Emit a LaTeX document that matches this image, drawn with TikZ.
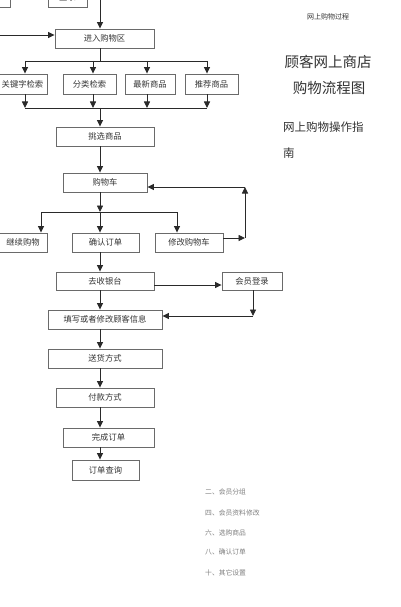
\documentclass[tikz,border=0pt]{standalone}
\usepackage{fontspec}
\newfontfamily\cjk{Noto Sans CJK SC}
\usetikzlibrary{arrows.meta}
\definecolor{boxline}{HTML}{6A6A6A}
\definecolor{conn}{HTML}{2A2A2A}
\definecolor{txt}{HTML}{333333}
\begin{document}
\begin{tikzpicture}[x=1pt,y=-1pt,
  box/.style={draw=boxline,line width=0.9pt,fill=white,inner sep=0pt,minimum height=19pt,font=\cjk\fontsize{8.3}{9}\selectfont,text=txt},
  conline/.style={draw=conn,line width=0.85pt},
  arr/.style={conline,-{Triangle[length=6.5pt,width=6pt]}},
  small/.style={font=\cjk\fontsize{6.8}{8}\selectfont,text=gray,anchor=west,inner sep=0pt}]
\useasboundingbox (0,0) rectangle (400,607);
\fill[white] (0,0) rectangle (400,607);
% top partially visible boxes
\node[box,minimum width=39pt] (login) at (67.5,-2.5) {登录};
\node[box,minimum width=50pt] (lefttop) at (-15,-2.5) {};
\node[box,minimum width=99pt] (enter) at (104.5,38.5) {进入购物区};
\node[box,minimum width=49pt,minimum height=20pt] (kw) at (22.5,84) {关键字检索};
\node[box,minimum width=53pt,minimum height=20pt] (cat) at (89.5,84) {分类检索};
\node[box,minimum width=50pt,minimum height=20pt] (new) at (150,84) {最新商品};
\node[box,minimum width=53pt,minimum height=20pt] (rec) at (211.5,84) {推荐商品};
\node[box,minimum width=98pt] (pick) at (105,136.5) {挑选商品};
\node[box,minimum width=84pt] (cart) at (105,182.5) {购物车};
\node[box,minimum width=48pt] (cont) at (23,242.5) {继续购物};
\node[box,minimum width=67pt] (confirm) at (105.5,242.5) {确认订单};
\node[box,minimum width=68pt] (modify) at (189,242.5) {修改购物车};
\node[box,minimum width=98pt,minimum height=18pt] (cashier) at (105,281) {去收银台};
\node[box,minimum width=60pt,minimum height=18pt] (member) at (252,281) {会员登录};
\node[box,minimum width=114pt] (info) at (105,319.5) {填写或者修改顾客信息};
\node[box,minimum width=114pt] (ship) at (105,358.5) {送货方式};
\node[box,minimum width=98pt] (pay) at (105,397.5) {付款方式};
\node[box,minimum width=91pt] (done) at (108.5,437.5) {完成订单};
\node[box,minimum width=67pt,minimum height=20pt] (query) at (105.5,470) {订单查询};
% coordinates
\coordinate (top) at (100,0);
\coordinate (lin) at (0,35);
\coordinate (b1) at (100,61);
\coordinate (b1a) at (25,61);
\coordinate (b1b) at (93,61);
\coordinate (b1c) at (147,61);
\coordinate (b1d) at (207,61);
\coordinate (b2) at (100,108);
\coordinate (b2a) at (25,108);
\coordinate (b2b) at (93,108);
\coordinate (b2c) at (147,108);
\coordinate (b2d) at (207,108);
\coordinate (b3) at (100,212);
\coordinate (b3a) at (41,212);
\coordinate (b3c) at (177,212);
\coordinate (rt) at (245,238);
\coordinate (rtu) at (245,187);
\coordinate (mr) at (253,316);
\coordinate (x) at (100,0);
% connectors
\draw[arr] (top) -- (top |- enter.north);
\draw[arr] (lin) -- (lin -| enter.west);
\draw[conline] (x |- enter.south) -- (b1);
\draw[conline] (b1a) -- (b1d);
\draw[arr] (b1a) -- (b1a |- kw.north);
\draw[arr] (b1b) -- (b1b |- cat.north);
\draw[arr] (b1c) -- (b1c |- new.north);
\draw[arr] (b1d) -- (b1d |- rec.north);
\draw[arr] (b2a |- kw.south) -- (b2a);
\draw[arr] (b2b |- cat.south) -- (b2b);
\draw[arr] (b2c |- new.south) -- (b2c);
\draw[arr] (b2d |- rec.south) -- (b2d);
\draw[conline] (b2a) -- (b2d);
\draw[arr] (b2) -- (b2 |- pick.north);
\draw[arr] (x |- pick.south) -- (x |- cart.north);
\draw[arr] (x |- cart.south) -- (b3);
\draw[conline] (b3a) -- (b3c);
\draw[arr] (b3a) -- (b3a |- cont.north);
\draw[arr] (b3) -- (b3 |- confirm.north);
\draw[arr] (b3c) -- (b3c |- modify.north);
\draw[arr] (rt -| modify.east) -- (rt);
\draw[arr] (rt) -- (rtu);
\draw[arr] (rtu) -- (rtu -| cart.east);
\draw[arr] (x |- confirm.south) -- (x |- cashier.north);
\draw[arr] ([yshift=-4pt]cashier.east) -- ([yshift=-4pt]cashier.east -| member.west);
\draw[arr] (mr |- member.south) -- (mr);
\draw[arr] (mr) -- (mr -| info.east);
\draw[arr] (x |- cashier.south) -- (x |- info.north);
\draw[arr] (x |- info.south) -- (x |- ship.north);
\draw[arr] (x |- ship.south) -- (x |- pay.north);
\draw[arr] (x |- pay.south) -- (x |- done.north);
\draw[arr] (x |- done.south) -- (x |- query.north);
% right side texts
\node[font=\cjk\fontsize{7}{8}\selectfont,text=txt,inner sep=0pt] (hdr) at (328,17) {网上购物过程};
\node[font=\cjk\fontsize{14.5}{16}\selectfont,text=txt,inner sep=0pt] (t1) at (328,62) {顾客网上商店};
\node[font=\cjk\fontsize{14.5}{16}\selectfont,text=txt,inner sep=0pt] (t2) at (329,88) {购物流程图};
\node[font=\cjk\fontsize{11.5}{13}\selectfont,text=txt,inner sep=0pt,anchor=west] (g1) at (283,127) {网上购物操作指};
\node[font=\cjk\fontsize{11.5}{13}\selectfont,text=txt,inner sep=0pt,anchor=west] (g2) at (283,153) {南};
% bottom list
\node[small] (l1) at (205,492) {二、会员分组};
\node[small] (l2) at (205,513) {四、会员资料修改};
\node[small] (l3) at (205,533) {六、选购商品};
\node[small] (l4) at (205,552) {八、确认订单};
\node[small] (l5) at (205,573) {十、其它设置};
\end{tikzpicture}
\end{document}
